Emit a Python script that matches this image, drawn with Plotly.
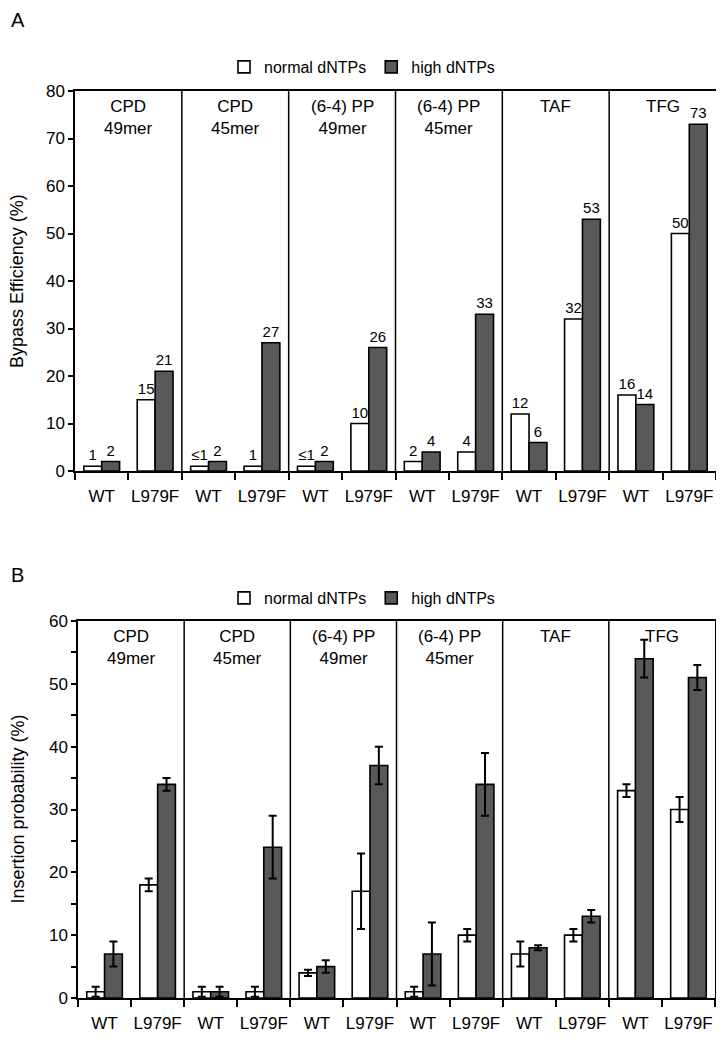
import plotly.graph_objects as go

# ---------------- data ----------------
groups = ["CPD<br>49mer", "CPD<br>45mer", "(6-4) PP<br>49mer", "(6-4) PP<br>45mer", "TAF", "TFG"]
mutants = ["WT", "L979F"]
series = ["normal dNTPs", "high dNTPs"]

# Panel A: bypass efficiency (%)
a_normal = [1, 15, 1, 1, 1, 10, 2, 4, 12, 32, 16, 50]
a_high = [2, 21, 2, 27, 2, 26, 4, 33, 6, 53, 14, 73]
a_normal_labels = ["1", "15", "≤1", "1", "≤1", "10", "2", "4", "12", "32", "16", "50"]
a_high_labels = ["2", "21", "2", "27", "2", "26", "4", "33", "6", "53", "14", "73"]

# Panel B: insertion probability (%) with error
b_normal = [1, 18, 1, 1, 4, 17, 1, 10, 7, 10, 33, 30]
b_normal_err = [0.8, 1, 0.8, 0.8, 0.5, 6, 0.8, 1, 2, 1, 1, 2]
b_high = [7, 34, 1, 24, 5, 37, 7, 34, 8, 13, 54, 51]
b_high_err = [2, 1, 0.8, 5, 1, 3, 5, 5, 0.4, 1, 3, 2]

# ---------------- derived ----------------
n = len(groups) * len(mutants)
pos = list(range(n))
ticktext = [mutants[i % len(mutants)] for i in pos]
group_centers = [g * len(mutants) + (len(mutants) - 1) / 2 for g in range(len(groups))]
separators = [g * len(mutants) - 0.5 for g in range(1, len(groups))]

WHITE = "#ffffff"
DARK = "#595959"
FONT = "Liberation Sans, Arial"

# page has an 8px body margin: figure is drawn at page offset (8, 8)
OFF = 8
W, H = 724 - OFF, 1050 - OFF
ml, mr, mt, mb = 75 - OFF, 8, 91 - OFF, 52
pw, ph = W - ml - mr, H - mt - mb


def py(p):
    """page pixel y -> paper y"""
    return (H - mb - (p - OFF)) / ph


def px(p):
    """page pixel x -> paper x"""
    return (p - OFF - ml) / pw


fig = go.Figure()

bar_line = dict(color="black", width=1.6)
# Panel A
fig.add_trace(go.Bar(x=pos, y=a_normal, name=series[0], marker=dict(color=WHITE, line=bar_line),
                     text=a_normal_labels, textposition="outside", cliponaxis=False, constraintext="none",
                     textfont=dict(family=FONT, size=15, color="black"), xaxis="x", yaxis="y", legend="legend"))
fig.add_trace(go.Bar(x=pos, y=a_high, name=series[1], marker=dict(color=DARK, line=bar_line),
                     text=a_high_labels, textposition="outside", cliponaxis=False, constraintext="none",
                     textfont=dict(family=FONT, size=15, color="black"), xaxis="x", yaxis="y", legend="legend"))

# Panel B
fig.add_trace(go.Bar(x=pos, y=b_normal, name=series[0], marker=dict(color=WHITE, line=bar_line),
                     error_y=dict(type="data", array=b_normal_err, color="black", thickness=2, width=4),
                     xaxis="x2", yaxis="y2", legend="legend2"))
fig.add_trace(go.Bar(x=pos, y=b_high, name=series[1], marker=dict(color=DARK, line=bar_line),
                     error_y=dict(type="data", array=b_high_err, color="black", thickness=2, width=4),
                     xaxis="x2", yaxis="y2", legend="legend2"))

xcommon = dict(range=[-0.5, n - 0.5], tickmode="array", tickvals=pos, ticktext=ticktext, ticks="",
               showline=True, linecolor="black", linewidth=1.5, mirror=True, showgrid=False, zeroline=False,
               automargin=False,
               tickfont=dict(family=FONT, size=17, color="black"), ticklabelstandoff=9,
               minor=dict(tickmode="array", tickvals=[i - 0.5 for i in range(n + 1)], ticks="outside",
                          ticklen=7, tickcolor="black", tickwidth=1.5, showgrid=False))
ycommon = dict(showline=True, linecolor="black", linewidth=1.5, mirror=True, showgrid=False, zeroline=False,
               automargin=False,
               ticks="outside", ticklen=5, tickwidth=1.5, tickcolor="black",
               tickfont=dict(family=FONT, size=17, color="black"))

fig.update_layout(
    width=W, height=H, margin=dict(l=ml, r=mr, t=mt, b=mb),
    paper_bgcolor="white", plot_bgcolor="white",
    barmode="group", bargap=0.33, bargroupgap=0,
    xaxis=dict(domain=[0, 1], anchor="y", **xcommon),
    yaxis=dict(domain=[py(471), 1], anchor="x", range=[0, 80], dtick=10, **ycommon),
    xaxis2=dict(domain=[px(78), px(715)], anchor="y2", **xcommon),
    yaxis2=dict(domain=[0, py(621)], anchor="x2", range=[0, 60], dtick=10,
                minor=dict(dtick=5, ticks="outside", ticklen=5, tickwidth=1.5, tickcolor="black", showgrid=False),
                **ycommon),
    legend=dict(orientation="h", x=px(362), xanchor="center", y=py(67), yanchor="middle",
                font=dict(family=FONT, size=16, color="black"), bgcolor="rgba(0,0,0,0)"),
    legend2=dict(orientation="h", x=px(362), xanchor="center", y=py(598), yanchor="middle",
                 font=dict(family=FONT, size=16, color="black"), bgcolor="rgba(0,0,0,0)"),
    showlegend=True,
)

shapes = []
for xa, ya in (("x", "y"), ("x2", "y2")):
    for s in separators:
        shapes.append(dict(type="line", xref=xa, yref=f"{ya} domain", x0=s, x1=s, y0=0, y1=1,
                           line=dict(color="black", width=1.5)))
fig.update_layout(shapes=shapes)

ann = []
for xa, ya in (("x", "y"), ("x2", "y2")):
    for gc, g in zip(group_centers, groups):
        ann.append(dict(x=gc, y=0.99, xref=xa, yref=f"{ya} domain", text=g, showarrow=False,
                        xanchor="center", yanchor="top", font=dict(family=FONT, size=17, color="black")))
ann.append(dict(x=px(17), y=(py(91) + py(471)) / 2, xref="paper", yref="paper", text="Bypass Efficiency (%)",
                textangle=-90, showarrow=False, xanchor="center", yanchor="middle",
                font=dict(family=FONT, size=18, color="black")))
ann.append(dict(x=px(17), y=(py(621) + py(998)) / 2, xref="paper", yref="paper", text="Insertion probability (%)",
                textangle=-90, showarrow=False, xanchor="center", yanchor="middle",
                font=dict(family=FONT, size=18, color="black")))
ann.append(dict(x=px(9), y=py(20), xref="paper", yref="paper", text="A", showarrow=False,
                xanchor="left", yanchor="middle", font=dict(family=FONT, size=20, color="black")))
ann.append(dict(x=px(9), y=py(575), xref="paper", yref="paper", text="B", showarrow=False,
                xanchor="left", yanchor="middle", font=dict(family=FONT, size=20, color="black")))
fig.update_layout(annotations=ann)

fig.write_html("out.html")
